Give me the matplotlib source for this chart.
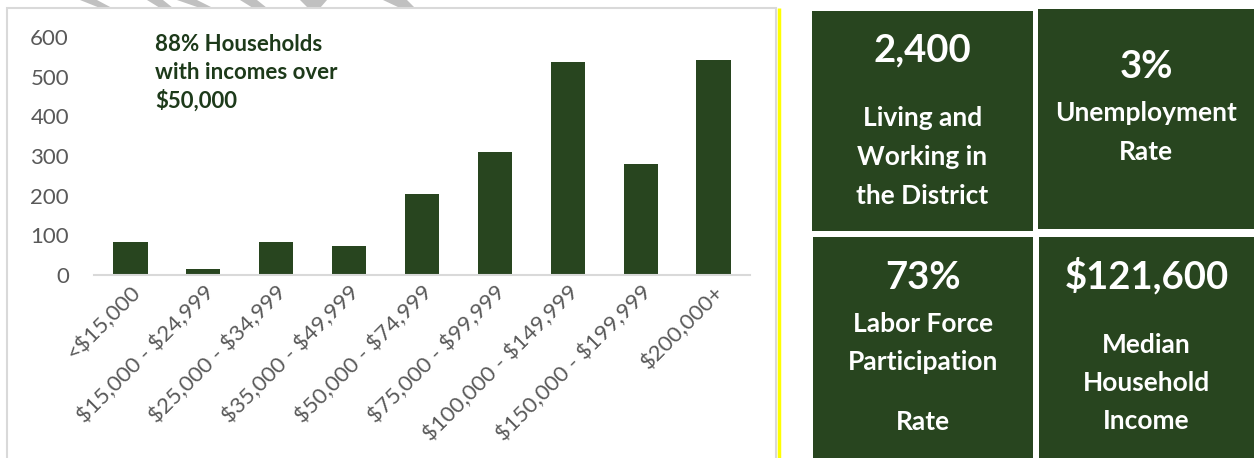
import matplotlib
matplotlib.use("Agg")
import matplotlib.pyplot as plt
from matplotlib.patches import Rectangle, Polygon

plt.rcParams['font.family'] = ['Lato', 'DejaVu Sans']

categories = ["<$15,000", "$15,000 - $24,999", "$25,000 - $34,999", "$35,000 - $49,999",
              "$50,000 - $74,999", "$75,000 - $99,999", "$100,000 - $149,999",
              "$150,000 - $199,999", "$200,000+"]
households = [82, 15, 83, 74, 203, 310, 537, 279, 541]
yticks = [0, 100, 200, 300, 400, 500, 600]
annotation = "88% Households\nwith incomes over\n$50,000"

stat_values = ["2,400", "3%", "73%", "$121,600"]
stat_labels = [["Living and", "Working in", "the District"],
               ["Unemployment", "Rate"],
               ["Labor Force", "Participation", "Rate"],
               ["Median", "Household", "Income"]]


def esc(s):
    return s.replace("$", r"\$")


W, H = 1254, 458
GREEN = "#28451f"
fig = plt.figure(figsize=(W / 100, H / 100), dpi=100)

# overlay in pixel coordinates
ov = fig.add_axes([0, 0, 1, 1])
ov.set_xlim(0, W)
ov.set_ylim(H, 0)
ov.axis("off")

# decorative stripes at top
stripes = [((80, 97), (100, 112)), ((147, 163), (160, 173)), ((177, 197), (200, 213)),
           ((240, 257), (253, 267)), ((300, 327), (308, 320)), ((383, 407), (400, 415))]
for (t0, t1), (b0, b1) in stripes:
    ov.add_patch(Polygon([(t0, 0), (t1, 0), (b1, 8), (b0, 8)], closed=True,
                         facecolor="#c0c0c0", edgecolor="none"))

# chart frame
ov.add_patch(Rectangle((7, 8), 769, 460, facecolor="white", edgecolor="#d9d9d9", lw=1.5))
ov.plot([778.5, 778.5], [8, H], color="#ffff00", lw=2.5, solid_capstyle="butt")

# stat boxes
boxes = [(812, 11, 221, 220), (1038, 9, 216, 220), (813, 237, 220, 221), (1039, 237, 215, 221)]
val_y = [50, 67, 278, 276]
line_y = [[118, 157, 196], [113, 152], [324, 362, 422], [345, 383, 421]]
for (x, y, w, h), v, lab, vy, ly in zip(boxes, stat_values, stat_labels, val_y, line_y):
    ov.add_patch(Rectangle((x, y), w, h, facecolor=GREEN, edgecolor="none"))
    cx = x + w / 2
    ov.text(cx, vy, esc(v), color="white", fontsize=27.5, fontweight="bold", ha="center", va="center")
    for line, yy in zip(lab, ly):
        ov.text(cx, yy, esc(line), color="white", fontsize=19, fontweight="bold",
                ha="center", va="center")

# bar chart
ax = fig.add_axes([94 / W, (H - 275) / H, 656 / W, 238 / H])
ax.patch.set_alpha(0)
x = range(len(categories))
ax.bar(x, households, width=0.47, color=GREEN)
ax.set_xlim(-0.5, len(categories) - 0.5)
ax.set_ylim(0, 600)
ax.set_yticks(yticks)
ax.set_yticklabels([str(t) for t in yticks])
ax.set_xticks(list(x))
ax.set_xticklabels([esc(c) for c in categories], rotation=45, ha="right", va="top",
                   rotation_mode="anchor")
for s in ["top", "right", "left"]:
    ax.spines[s].set_visible(False)
ax.spines["bottom"].set_color("#d9d9d9")
ax.spines["bottom"].set_linewidth(1.5)
ax.tick_params(axis="y", length=0, pad=18, labelsize=16, labelcolor="#595959")
ax.tick_params(axis="x", length=0, pad=5, labelsize=16, labelcolor="#595959")

ov.text(155, 73, esc(annotation), color="#1d3a1a", fontsize=16, fontweight="bold",
        ha="left", va="center", linespacing=1.38)

fig.savefig("out.png", dpi=100)
